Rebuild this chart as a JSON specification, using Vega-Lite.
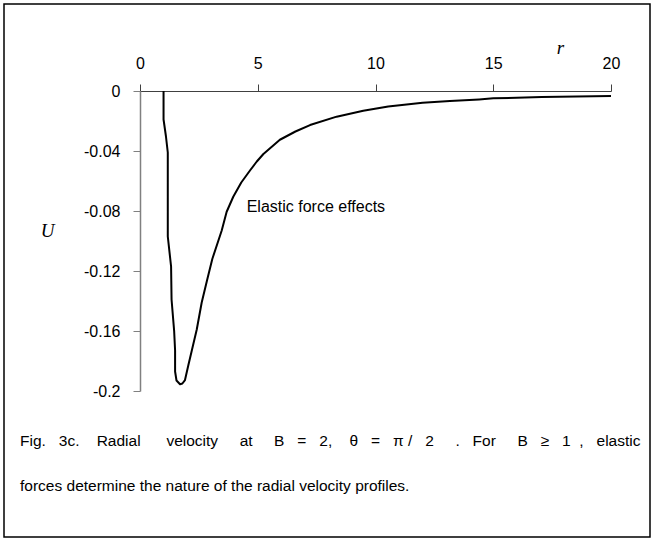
{
  "$schema": "https://vega.github.io/schema/vega-lite/v6.json",
  "autosize": "none",
  "width": 471,
  "height": 300,
  "padding": {"left": 140, "top": 91, "right": 43, "bottom": 150},
  "background": "white",
  "config": {"view": {"stroke": null}, "font": "Liberation Sans"},
  "title": {
    "text": [
      "Fig.\u00a0\u00a0\u00a03c.\u00a0\u00a0\u00a0\u00a0Radial\u00a0\u00a0\u00a0\u00a0\u00a0\u00a0velocity\u00a0\u00a0\u00a0\u00a0\u00a0at\u00a0\u00a0\u00a0\u00a0\u00a0B\u00a0\u00a0\u00a0=\u00a0\u00a0\u00a02,\u00a0\u00a0\u00a0\u00a0θ\u00a0\u00a0\u00a0=\u00a0\u00a0\u00a0π\u00a0/\u00a0\u00a0\u00a02\u00a0\u00a0\u00a0\u00a0\u00a0.\u00a0\u00a0\u00a0For\u00a0\u00a0\u00a0\u00a0\u00a0B\u00a0\u00a0\u00a0≥\u00a0\u00a0\u00a01\u00a0\u00a0,\u00a0\u00a0\u00a0elastic",
      "forces determine the nature of the radial velocity profiles."
    ],
    "orient": "bottom",
    "anchor": "start",
    "frame": "group",
    "dx": -120,
    "dy": -142,
    "offset": 38,
    "font": "Liberation Sans",
    "fontSize": 15.5,
    "fontWeight": "normal",
    "lineHeight": 45,
    "color": "black"
  },
  "layer": [
    {
      "data": {"values": [{}]},
      "mark": {"type": "rect", "fill": null, "stroke": "black", "strokeWidth": 1.5},
      "encoding": {
        "x": {"value": -136},
        "x2": {"value": 510},
        "y": {"value": -87},
        "y2": {"value": 446}
      }
    },
    {
      "data": {
        "values": [
          {"order": 1, "r": 1.0, "U": 0},
          {"order": 2, "r": 1.0, "U": -0.019},
          {"order": 3, "r": 1.1, "U": -0.03},
          {"order": 4, "r": 1.18, "U": -0.041},
          {"order": 5, "r": 1.18, "U": -0.097},
          {"order": 6, "r": 1.32, "U": -0.117},
          {"order": 7, "r": 1.34, "U": -0.139},
          {"order": 8, "r": 1.45, "U": -0.16},
          {"order": 9, "r": 1.49, "U": -0.173},
          {"order": 10, "r": 1.49, "U": -0.187},
          {"order": 11, "r": 1.55, "U": -0.193},
          {"order": 12, "r": 1.7, "U": -0.1955},
          {"order": 13, "r": 1.8, "U": -0.195},
          {"order": 14, "r": 1.91, "U": -0.1927},
          {"order": 15, "r": 2.05, "U": -0.183},
          {"order": 16, "r": 2.2, "U": -0.173},
          {"order": 17, "r": 2.41, "U": -0.159},
          {"order": 18, "r": 2.62, "U": -0.141},
          {"order": 19, "r": 2.85, "U": -0.126},
          {"order": 20, "r": 3.07, "U": -0.112},
          {"order": 21, "r": 3.47, "U": -0.093},
          {"order": 22, "r": 3.68, "U": -0.0805},
          {"order": 23, "r": 3.96, "U": -0.0705},
          {"order": 24, "r": 4.3, "U": -0.061},
          {"order": 25, "r": 4.67, "U": -0.053},
          {"order": 26, "r": 4.96, "U": -0.047},
          {"order": 27, "r": 5.24, "U": -0.042},
          {"order": 28, "r": 5.94, "U": -0.0325},
          {"order": 29, "r": 6.6, "U": -0.027},
          {"order": 30, "r": 7.22, "U": -0.0227},
          {"order": 31, "r": 8.35, "U": -0.0171},
          {"order": 32, "r": 9.48, "U": -0.0131},
          {"order": 33, "r": 10.54, "U": -0.0103},
          {"order": 34, "r": 12.0, "U": -0.0078},
          {"order": 35, "r": 13.16, "U": -0.0067},
          {"order": 36, "r": 14.4, "U": -0.0056},
          {"order": 37, "r": 15.0, "U": -0.0049},
          {"order": 38, "r": 17.06, "U": -0.004},
          {"order": 39, "r": 20.0, "U": -0.0033}
        ]
      },
      "mark": {"type": "line", "color": "black", "strokeWidth": 2, "strokeJoin": "round"},
      "encoding": {
        "x": {
          "field": "r", "type": "quantitative",
          "scale": {"domain": [0, 20], "nice": false, "zero": false},
          "axis": {
            "orient": "top",
            "values": [0, 5, 10, 15, 20],
            "title": "r",
            "titleFont": "Liberation Serif",
            "titleFontStyle": "italic",
            "titleFontWeight": "normal",
            "titleFontSize": 19,
            "titleColor": "black",
            "titleAngle": 0,
            "titleX": 420,
            "titleY": -44,
            "titleBaseline": "middle",
            "titleAlign": "center",
            "grid": false,
            "domainColor": "#404040",
            "domainWidth": 1,
            "tickColor": "#404040",
            "tickSize": 7,
            "labelFont": "Liberation Sans",
            "labelFontSize": 16,
            "labelColor": "black",
            "labelPadding": 13,
            "labelFlush": false
          }
        },
        "y": {
          "field": "U", "type": "quantitative",
          "scale": {"domain": [-0.2, 0], "nice": false, "zero": false},
          "axis": {
            "orient": "left",
            "values": [0, -0.04, -0.08, -0.12, -0.16, -0.2],
            "labelExpr": "'' + datum.value",
            "title": "U",
            "titleFont": "Liberation Serif",
            "titleFontStyle": "italic",
            "titleFontWeight": "normal",
            "titleFontSize": 19,
            "titleColor": "black",
            "titleAngle": 0,
            "titleX": -93,
            "titleY": 139,
            "titleBaseline": "middle",
            "titleAlign": "center",
            "grid": false,
            "domainColor": "#808080",
            "domainWidth": 1.5,
            "tickColor": "#808080",
            "tickSize": 7,
            "labelFont": "Liberation Sans",
            "labelFontSize": 16,
            "labelColor": "black",
            "labelPadding": 13,
            "labelFlush": false
          }
        },
        "order": {"field": "order", "type": "quantitative"}
      }
    },
    {
      "data": {"values": [{"r": 4.53, "U": -0.0771, "label": "Elastic force effects"}]},
      "mark": {"type": "text", "align": "left", "baseline": "middle", "font": "Liberation Sans", "fontSize": 16, "color": "black"},
      "encoding": {
        "x": {"field": "r", "type": "quantitative"},
        "y": {"field": "U", "type": "quantitative"},
        "text": {"field": "label"}
      }
    }
  ]
}
